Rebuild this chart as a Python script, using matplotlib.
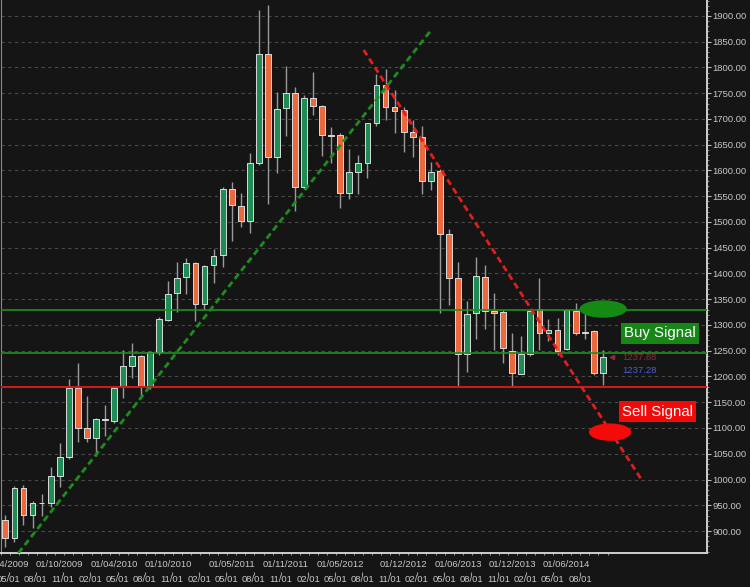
import numpy as np
import pandas as pd
import matplotlib.pyplot as plt
from matplotlib.patches import Ellipse
from matplotlib.ticker import MultipleLocator, FormatStrFormatter

plt.rcParams['font.family'] = ['Liberation Sans', 'DejaVu Sans']

# monthly candles, Apr 2009 - Oct 2014
months = pd.date_range('2009-04-01', periods=67, freq='MS')
opens = [921, 886, 983, 931, 954, 954, 1007, 1044, 1178, 1100, 1081, 1117,
         1114, 1180, 1220, 1240, 1180, 1248, 1310, 1362, 1393, 1420, 1341, 1416,
         1436, 1564, 1531, 1502, 1615, 1826, 1626, 1721, 1750, 1568, 1741, 1725,
         1669, 1669, 1556, 1597, 1615, 1692, 1766, 1723, 1717, 1675, 1665, 1580,
         1599, 1477, 1391, 1244, 1323, 1393, 1327, 1325, 1249, 1205, 1244, 1331,
         1284, 1290, 1253, 1327, 1284, 1288, 1207]
highs = [931, 987, 989, 958, 972, 1024, 1071, 1195, 1226, 1162, 1119, 1145,
         1182, 1251, 1265, 1242, 1250, 1316, 1385, 1422, 1430, 1422, 1416, 1447,
         1568, 1577, 1556, 1634, 1912, 1921, 1752, 1803, 1762, 1746, 1791, 1727,
         1684, 1673, 1642, 1630, 1693, 1787, 1797, 1756, 1723, 1698, 1686, 1616,
         1603, 1486, 1422, 1347, 1432, 1417, 1362, 1329, 1284, 1279, 1331, 1391,
         1312, 1314, 1331, 1343, 1323, 1290, 1251]
lows = [869, 879, 912, 906, 929, 947, 985, 1040, 1073, 1073, 1046, 1084,
        1110, 1158, 1197, 1162, 1176, 1242, 1308, 1325, 1360, 1308, 1330, 1381,
        1413, 1464, 1490, 1479, 1611, 1535, 1595, 1667, 1521, 1565, 1708, 1628,
        1615, 1527, 1545, 1554, 1585, 1686, 1698, 1673, 1636, 1626, 1554, 1562,
        1323, 1339, 1181, 1209, 1273, 1292, 1251, 1226, 1181, 1205, 1240, 1252,
        1268, 1242, 1252, 1280, 1273, 1203, 1184]
closes = [886, 983, 931, 954, 955, 1007, 1044, 1178, 1100, 1081, 1117, 1116,
          1178, 1220, 1240, 1182, 1248, 1312, 1360, 1391, 1420, 1341, 1415, 1434,
          1564, 1533, 1502, 1615, 1826, 1626, 1719, 1750, 1568, 1741, 1725, 1669,
          1667, 1556, 1597, 1615, 1692, 1766, 1723, 1716, 1675, 1665, 1580, 1597,
          1477, 1391, 1244, 1321, 1395, 1327, 1324, 1255, 1207, 1244, 1327, 1284,
          1290, 1249, 1329, 1284, 1287, 1207, 1237.88]

# support / resistance levels
buy_levels = [1329, 1245]
sell_level = 1179
# trend lines (month index, price)
up_trend_x, up_trend_y = [1.43, 46.97], [857, 1871]
down_trend_x, down_trend_y = [39.58, 70.23], [1834, 1001]

top_label_months = ['2009-04', '2009-10', '2010-04', '2010-10', '2011-05', '2011-11',
                    '2012-05', '2012-12', '2013-06', '2013-12', '2014-06']

bg = '#151515'
fig = plt.figure(figsize=(7.5, 5.87), dpi=100, facecolor=bg)
ax = fig.add_axes([1 / 750, 34 / 587, 706 / 750, 553 / 587], facecolor=bg)

idx = np.arange(len(months))
o = np.array(opens, float)
c = np.array(closes, float)
up = c >= o
body_col = np.where(up, '#208c55', '#eb693c')

ax.vlines(idx, lows, highs, color='#9a9a9a', lw=1.0, zorder=2)
ax.bar(idx, np.maximum(np.abs(c - o), 0.5), bottom=np.minimum(o, c), width=0.64,
       color=body_col, edgecolor='#dcdcdc', linewidth=0.7, zorder=3)

# horizontal levels
for lv in buy_levels:
    ax.axhline(lv, color='#1f8f1f', lw=1.2, zorder=4)
ax.axhline(sell_level, color='#cc1a1a', lw=1.5, zorder=4)

# trend lines
ax.plot(up_trend_x, up_trend_y, color='#1e8c1e', lw=2.0, dashes=(2.3, 1.4), zorder=5)
ax.plot(down_trend_x, down_trend_y, color='#e01e1e', lw=2.0, dashes=(2.3, 1.4), zorder=5)

# signal markers
ax.add_patch(Ellipse((66.04, 1331), 5.07, 31, color='#148a14', zorder=6))
ax.add_patch(Ellipse((66.8, 1092), 4.52, 31, color='#f50a0a', zorder=6))
ax.text(72.3, 1283.5, 'Buy Signal', color='white', fontsize=10.8, ha='center', va='center',
        bbox=dict(boxstyle='square,pad=0.22', fc='#168716', ec='none'), zorder=7)
ax.text(72.05, 1132, 'Sell Signal', color='white', fontsize=10.8, ha='center', va='center',
        bbox=dict(boxstyle='square,pad=0.22', fc='#f00a0a', ec='none'), zorder=7)

# last price marks
ax.plot(67.0, closes[-1], marker='<', ms=3, color='#8c2d3c', zorder=7)
ax.text(68.1, 1236, '1237.88', color='#8c2d3c', fontsize=6.8, va='center', ha='left')
ax.text(68.1, 1212.6, '1237.28', color='#4b5fd2', fontsize=6.8, va='center', ha='left')

xlim = (-0.33, 77.51)
ax.set_xlim(*xlim)
ax.set_ylim(857.3, 1931)

# y axis on the right
ax.yaxis.tick_right()
ax.yaxis.set_major_locator(MultipleLocator(50))
ax.yaxis.set_minor_locator(MultipleLocator(10))
ax.yaxis.set_major_formatter(FormatStrFormatter('%.2f'))
ax.tick_params(axis='y', which='major', length=3, width=0.8, color='#bdbdbd',
               labelcolor='#c8c8c8', labelsize=6.8, pad=0.8)
ax.tick_params(axis='y', which='minor', length=1.5, width=0.6, color='#9a9a9a')
ax.grid(axis='y', which='major', color='#4a4a4a', lw=0.8, dashes=(3, 3))

# x axis: two rows of date labels
top_pos = [list(months.strftime('%Y-%m')).index(m) for m in top_label_months]
ax.set_xticks(top_pos, [months[p].strftime('%d/%m/%Y') for p in top_pos])
ax.set_xticks(np.arange(len(months) + 1) - 0.48, minor=True)
ax.tick_params(axis='x', which='major', length=0, pad=5, labelcolor='#c8c8c8', labelsize=6.8)
ax.tick_params(axis='x', which='minor', length=1.6, width=0.7, color='#9a9a9a')

# second row of labels on a flat, frameless axes just below
q_pos = np.arange(1, len(months) - 1, 3)
ax_q = fig.add_axes([1 / 750, 15.5 / 587, 706 / 750, 0.0001])
ax_q.set_frame_on(False)
ax_q.set_xlim(*xlim)
ax_q.set_yticks([])
ax_q.set_xticks(q_pos - 0.48, [months[p].strftime('%m/%d') for p in q_pos])
ax_q.tick_params(axis='x', length=2, width=0.8, color='#9a9a9a', pad=0.6,
                 labelcolor='#c8c8c8', labelsize=6.8)

for side in ['right', 'bottom']:
    ax.spines[side].set_color('#d0d0d0')
    ax.spines[side].set_linewidth(1.4)
ax.spines['left'].set_color('#8a8a8a')
ax.spines['top'].set_visible(False)

fig.savefig('out.png', dpi=100, facecolor=bg)
